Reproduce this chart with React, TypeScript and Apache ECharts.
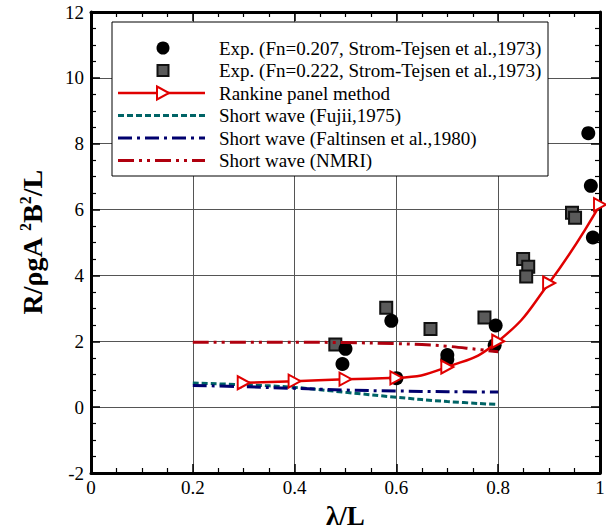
import React, { useEffect, useRef } from "react";
import * as echarts from "echarts";

// Experiments (Fn=0.207, Strom-Tejsen et al., 1973)
const expFn207X = [0.494, 0.5, 0.59, 0.6, 0.7, 0.7, 0.795, 0.793, 0.977, 0.982, 0.986];
const expFn207Y = [1.31, 1.77, 2.62, 0.88, 1.58, 1.45, 2.48, 1.88, 8.32, 6.72, 5.15];
// Experiments (Fn=0.222, Strom-Tejsen et al., 1973)
const expFn222X = [0.48, 0.58, 0.667, 0.773, 0.849, 0.859, 0.855, 0.945, 0.951];
const expFn222Y = [1.9, 3.02, 2.37, 2.72, 4.5, 4.26, 3.97, 5.9, 5.75];
// Rankine panel method
const rankineX = [0.3, 0.4, 0.5, 0.6, 0.7, 0.8, 0.9, 1.0];
const rankineY = [0.74, 0.79, 0.85, 0.89, 1.22, 2.0, 3.77, 6.15];
// Short wave (Fujii, 1975)
const fujiiX = [0.2, 0.3, 0.4, 0.5, 0.6, 0.7, 0.8];
const fujiiY = [0.73, 0.68, 0.6, 0.45, 0.3, 0.17, 0.08];
// Short wave (Faltinsen et al., 1980)
const faltX = [0.2, 0.3, 0.4, 0.5, 0.6, 0.7, 0.8];
const faltY = [0.66, 0.62, 0.57, 0.52, 0.49, 0.47, 0.46];
// Short wave (NMRI)
const nmriX = [0.2, 0.3, 0.4, 0.5, 0.6, 0.65, 0.7, 0.75, 0.8];
const nmriY = [1.97, 1.97, 1.97, 1.96, 1.93, 1.9, 1.85, 1.77, 1.68];

const legendLabels = [
  "Exp. (Fn=0.207, Strom-Tejsen et al.,1973)",
  "Exp. (Fn=0.222, Strom-Tejsen et al.,1973)",
  "Rankine panel method",
  "Short wave (Fujii,1975)",
  "Short wave (Faltinsen et al.,1980)",
  "Short wave (NMRI)",
];

const FONT = "Liberation Serif";
const RED = "#e00000";
const TEAL = "#006466";
const NAVY = "#00006e";
const DRED = "#b0000e";

const zip = (xs: number[], ys: number[]) => xs.map((x, i) => [x, ys[i]]);

function buildLegend() {
  const left = 112, top = 22, w = 436, h = 154;
  const rowY = [48, 70.5, 93, 115.5, 138, 160.5];
  const lx1 = 118, lx2 = 205, cx = 163, tx = 219;
  const els: any[] = [
    {
      type: "rect",
      shape: { x: left, y: top, width: w, height: h },
      style: { fill: "#fff", stroke: "#000", lineWidth: 1 },
      z: 100,
    },
    { type: "circle", shape: { cx, cy: rowY[0], r: 6.5 }, style: { fill: "#000" }, z: 101 },
    {
      type: "rect",
      shape: { x: cx - 5.5, y: rowY[1] - 5.5, width: 11, height: 11 },
      style: { fill: "#5a5a5a", stroke: "#111", lineWidth: 2 },
      z: 101,
    },
    {
      type: "line",
      shape: { x1: lx1, y1: rowY[2], x2: lx2, y2: rowY[2] },
      style: { stroke: RED, lineWidth: 2.5 },
      z: 101,
    },
    {
      type: "polygon",
      shape: { points: [[cx - 6, rowY[2] - 6.5], [cx + 6, rowY[2]], [cx - 6, rowY[2] + 6.5]] },
      style: { fill: "#fff", stroke: RED, lineWidth: 2 },
      z: 102,
    },
    {
      type: "line",
      shape: { x1: lx1, y1: rowY[3], x2: lx2, y2: rowY[3] },
      style: { stroke: TEAL, lineWidth: 3, lineDash: [6, 3] },
      z: 101,
    },
    {
      type: "line",
      shape: { x1: lx1, y1: rowY[4], x2: lx2, y2: rowY[4] },
      style: { stroke: NAVY, lineWidth: 3, lineDash: [14, 5, 3, 5] },
      z: 101,
    },
    {
      type: "line",
      shape: { x1: lx1, y1: rowY[5], x2: lx2, y2: rowY[5] },
      style: { stroke: DRED, lineWidth: 3, lineDash: [16, 5, 3, 5, 3, 5] },
      z: 101,
    },
  ];
  legendLabels.forEach((t, i) => {
    els.push({
      type: "text",
      x: tx,
      y: rowY[i],
      style: {
        text: t,
        fill: "#000",
        fontFamily: FONT,
        fontSize: 19,
        verticalAlign: "middle",
        align: "left",
      },
      z: 101,
    });
  });
  return els;
}

const axisLine = { show: true, onZero: false, lineStyle: { color: "#000", width: 3 } };
const tick = { show: true, inside: true, length: 9, lineStyle: { color: "#000", width: 1.5 } };
const minor = (n: number) => ({
  show: true,
  splitNumber: n,
  length: 5,
  lineStyle: { color: "#000", width: 1.2 },
});
const fmt = (v: number) => String(+v.toFixed(2));

export default function App() {
  const ref = useRef<HTMLDivElement>(null);
  useEffect(() => {
    const chart = echarts.init(ref.current!, null, { renderer: "svg" });
    chart.setOption({
      animation: false,
      backgroundColor: "#fff",
      textStyle: { fontFamily: FONT },
      grid: {
        left: 91,
        right: 6,
        top: 12,
        bottom: 58,
        containLabel: false,
        outerBoundsMode: "none",
      },
      xAxis: [
        {
          type: "value",
          min: 0,
          max: 1,
          interval: 0.2,
          position: "bottom",
          name: "λ/L",
          nameLocation: "middle",
          nameGap: 30,
          nameTextStyle: {
            fontFamily: FONT,
            fontSize: 27,
            fontWeight: "bold",
            color: "#000",
            lineHeight: 26,
          },
          axisLine,
          axisTick: tick,
          minorTick: minor(4),
          splitLine: { show: true, lineStyle: { color: "#555", width: 1 } },
          axisLabel: { fontFamily: FONT, fontSize: 19, color: "#000", margin: 5, formatter: fmt },
        },
        {
          type: "value",
          min: 0,
          max: 1,
          interval: 0.2,
          position: "top",
          axisLine,
          axisTick: tick,
          minorTick: minor(4),
          splitLine: { show: false },
          axisLabel: { show: false },
        },
      ],
      yAxis: [
        {
          type: "value",
          min: -2,
          max: 12,
          interval: 2,
          position: "left",
          name: "{a|R/ρgA }{s|2}{a|B}{s|2}{a|/L}",
          nameLocation: "middle",
          nameRotate: 90,
          nameGap: 44,
          nameTextStyle: {
            fontFamily: FONT,
            fontSize: 28,
            fontWeight: "bold",
            color: "#000",
            rich: {
              a: { fontFamily: FONT, fontSize: 28, fontWeight: "bold", color: "#000", lineHeight: 30 },
              s: { fontFamily: FONT, fontSize: 16, fontWeight: "bold", color: "#000", verticalAlign: "top", lineHeight: 16 },
            },
          },
          axisLine,
          axisTick: tick,
          minorTick: minor(4),
          splitLine: { show: true, lineStyle: { color: "#555", width: 1 } },
          axisLabel: { fontFamily: FONT, fontSize: 19, color: "#000", margin: 7, formatter: fmt },
        },
        {
          type: "value",
          min: -2,
          max: 12,
          interval: 2,
          position: "right",
          axisLine,
          axisTick: tick,
          minorTick: minor(4),
          splitLine: { show: false },
          axisLabel: { show: false },
        },
      ],
      series: [
        {
          name: legendLabels[3],
          type: "line",
          data: zip(fujiiX, fujiiY),
          smooth: 0.4,
          symbol: "none",
          lineStyle: { color: TEAL, width: 3, type: [6, 3] },
        },
        {
          name: legendLabels[4],
          type: "line",
          data: zip(faltX, faltY),
          smooth: 0.4,
          symbol: "none",
          lineStyle: { color: NAVY, width: 3, type: [14, 5, 3, 5] },
        },
        {
          name: legendLabels[5],
          type: "line",
          data: zip(nmriX, nmriY),
          smooth: 0.4,
          symbol: "none",
          lineStyle: { color: DRED, width: 3, type: [16, 5, 3, 5, 3, 5] },
        },
        {
          name: legendLabels[1],
          type: "scatter",
          data: zip(expFn222X, expFn222Y),
          symbol: "rect",
          symbolSize: 12,
          itemStyle: { color: "#5a5a5a", borderColor: "#111", borderWidth: 2, opacity: 1 },
        },
        {
          name: legendLabels[0],
          type: "scatter",
          data: zip(expFn207X, expFn207Y),
          symbol: "circle",
          symbolSize: 14,
          itemStyle: { color: "#000", opacity: 1 },
        },
        {
          name: legendLabels[2],
          type: "line",
          data: zip(rankineX, rankineY),
          smooth: 0.5,
          symbol: "triangle",
          symbolRotate: -90,
          symbolSize: [13, 12],
          showSymbol: true,
          lineStyle: { color: RED, width: 2.5 },
          itemStyle: { color: "#fff", borderColor: RED, borderWidth: 2 },
          clip: false,
        },
      ],
      graphic: buildLegend(),
    });
    return () => chart.dispose();
  }, []);
  return (
    <div
      ref={ref}
      style={{ position: "absolute", left: 0, top: 0, width: 606, height: 531, background: "#fff" }}
    />
  );
}
